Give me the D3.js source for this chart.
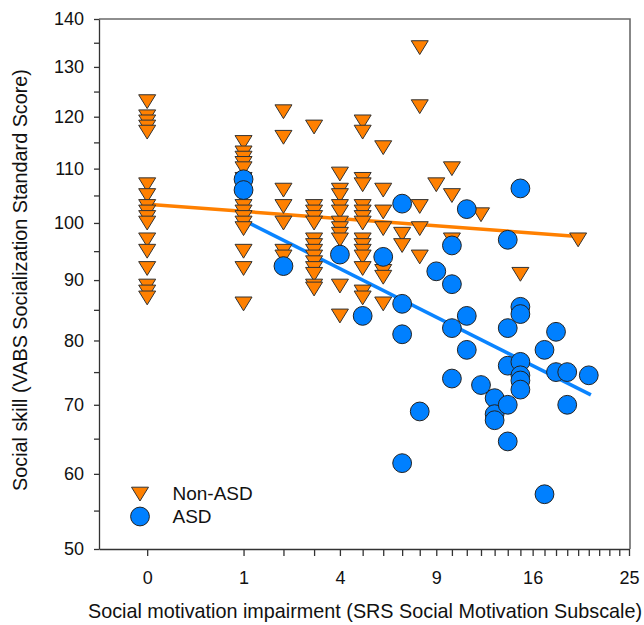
<!DOCTYPE html>
<html><head><meta charset="utf-8">
<script src="https://cdn.jsdelivr.net/npm/d3@7"></script>
<style>
html,body{margin:0;padding:0;background:#fff;}
svg{display:block;font-family:"Liberation Sans",Arial,Helvetica,sans-serif;}
</style></head>
<body>
<svg id="chart" width="644" height="625"></svg>
<script>
// Non-ASD: [SRS social motivation, VABS socialization]
const nonAsdX = [0,0,0,0,0,0,0,0,0,0,0,0,0,0,0,0,0,
  1,1,1,1,1,1,1,1,1,1,1,1,1,1,
  2,2,2,2,2,2,2,
  3,3,3,3,3,3,3,3,3,3,3,3,3,3,
  4,4,4,4,4,4,4,4,4,4,4,
  5,5,5,5,5,5,5,5,5,5,5,5,5,5,5,
  6,6,6,6,6,6,6,
  7,7,
  8,8,8,8,8,
  9,
  10,10,10,
  12,
  15,
  20];
const nonAsdY = [123,120,119,118,117,107,105,103,102,101,100,97,95,92,89,88,87,
  115,113,112,111,110,108,103,102,101,100,99,95,92,86,
  121,116,106,103,100,95,94,
  118,103,102,101,100,97,96,95,94,93,92,91,89,88.5,
  109,106,105,103,102,100,99,98,97,89,84,
  119,117,108,107,103,102,101,100,97,96,95,94,92,88,87,
  114,106,102,99,91.5,90.5,86,
  98,96,
  134,122,103,99,94,
  107,
  110,105,97,
  101.5,
  91,
  97];
// ASD
const asdX = [1,1,2,4,5,6,7,7,7,7,8,9,10,10,10,10,11,11,11,12,13,13,13,
  14,14,14,14,14,15,15,15,15,15,15,15,17,17,18,18,19,19,21];
const asdY = [108,106,92.4,94.4,84,94,103.5,86,81,61.5,69,91.5,96,89.3,82,74,102.5,84,78.5,73,71,68.6,67.7,
  97,82,76,70,64.6,106.3,85.5,84.3,76.6,74.5,73.7,72.3,78.5,57.2,81.4,75,75,70,74.5];
// Regression lines (endpoints)
const fitNonAsdX = [0,20], fitNonAsdY = [103.4,97.6];
const fitAsdX = [1,21.2], fitAsdY = [100.5,71.5];

const xMajor = [0,1,4,9,16,25];
const yMajor = [50,60,70,80,90,100,110,120,130,140];

const svg = d3.select("#chart");
const L=99,R=629,T=19,B=549;
const x = d3.scalePow().exponent(0.5).domain([-0.25,25]).range([L,R]);
const y = d3.scaleSqrt().domain([50,140]).range([B,T]);

// frame (top/right)
svg.append("path").attr("d",`M${L},${T}H${R+1}V${B}`).attr("fill","none")
  .attr("stroke","#6a6a6a").attr("stroke-width",1.6);

const xAxis = d3.axisBottom(x).tickValues(d3.range(0,26))
  .tickFormat(d=>xMajor.includes(d)?String(d):"").tickSize(7).tickSizeOuter(0);
const gx = svg.append("g").attr("transform",`translate(0,${B})`).call(xAxis);
const yAxis = d3.axisLeft(y).tickValues(d3.range(50,141,5))
  .tickFormat(d=>yMajor.includes(d)?String(d):"").tickSize(5).tickSizeOuter(0).tickPadding(10);
const gy = svg.append("g").attr("transform",`translate(${L},0)`).call(yAxis);
[gx,gy].forEach(g=>{
  g.selectAll("path,line").attr("stroke","#333").attr("stroke-width",1.3);
  g.selectAll("text").attr("fill","#111").style("font-size","18px").style("font-family",'"Liberation Sans",Arial,sans-serif');
});
gx.selectAll("text").attr("y",35).attr("dy",0);

// fit lines
const line = d3.line().x(d=>x(d[0])).y(d=>y(d[1]));
svg.append("path").datum(d3.zip(fitNonAsdX,fitNonAsdY)).attr("d",line)
  .attr("stroke","#FF8000").attr("stroke-width",3.5).attr("fill","none");
svg.append("path").datum(d3.zip(fitAsdX,fitAsdY)).attr("d",line)
  .attr("stroke","#0A84FF").attr("stroke-width",3.5).attr("fill","none");

const tri = "M-8.5,-6.8L8.5,-6.8L0,7Z";
svg.append("g").selectAll("path").data(d3.zip(nonAsdX,nonAsdY)).join("path")
  .attr("d",tri).attr("transform",d=>`translate(${x(d[0])},${y(d[1])})`)
  .attr("fill","#FF8000").attr("stroke","#333").attr("stroke-width",1);
svg.append("g").selectAll("circle").data(d3.zip(asdX,asdY)).join("circle")
  .attr("cx",d=>x(d[0])).attr("cy",d=>y(d[1])).attr("r",9.4)
  .attr("fill","#0080FF").attr("stroke","#222").attr("stroke-width",1);

// legend
const lg = svg.append("g");
lg.append("path").attr("d",tri).attr("transform","translate(140,494)")
  .attr("fill","#FF8000").attr("stroke","#333").attr("stroke-width",1);
lg.append("circle").attr("cx",140).attr("cy",516.5).attr("r",9.4)
  .attr("fill","#0080FF").attr("stroke","#222").attr("stroke-width",1);
lg.append("text").attr("x",172.5).attr("y",500).text("Non-ASD").style("font-size","19px").attr("fill","#111");
lg.append("text").attr("x",172.5).attr("y",523).text("ASD").style("font-size","19px").attr("fill","#111");

// titles
svg.append("text").attr("x",365).attr("y",618).attr("text-anchor","middle")
  .style("font-size","19.8px").attr("fill","#111")
  .text("Social motivation impairment (SRS Social Motivation Subscale)");
svg.append("text").attr("transform","translate(27,280) rotate(-90)").attr("text-anchor","middle")
  .style("font-size","19.8px").attr("fill","#111")
  .text("Social skill (VABS Socialization Standard Score)");
</script>
</body></html>
